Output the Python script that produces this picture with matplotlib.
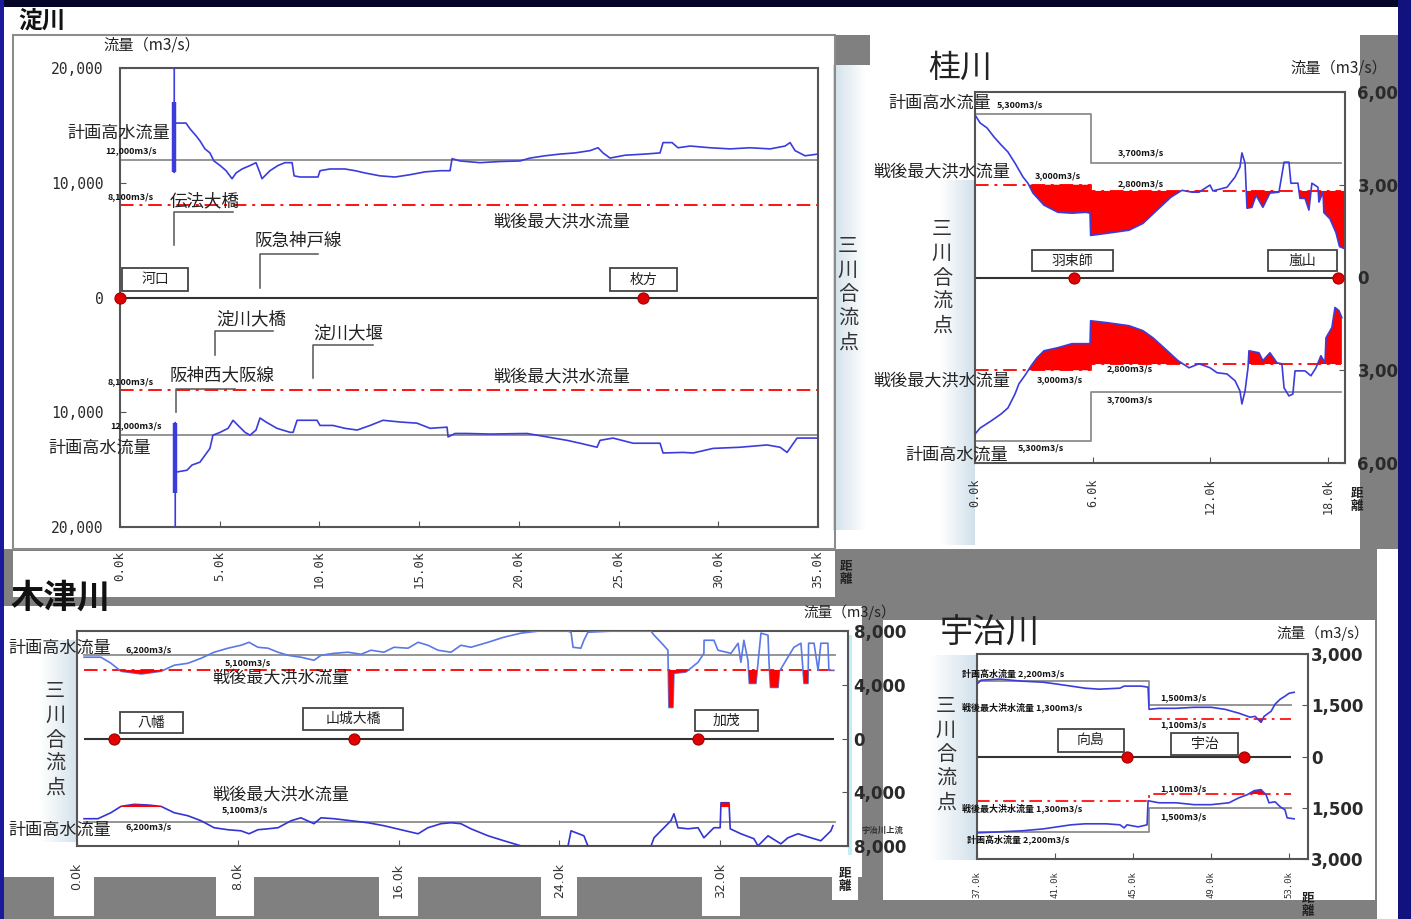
import numpy as np
import matplotlib.pyplot as plt
from matplotlib.patches import Rectangle
from matplotlib.ticker import FuncFormatter

plt.rcParams['font.family'] = ['Noto Sans CJK JP', 'DejaVu Sans']

# ---------------- 淀川 (0k = 河口) ----------------
yodo_km_up = [2.72, 2.72, 2.76, 2.91, 3.31, 3.51, 3.81, 4.01, 4.26, 4.51, 4.71, 5.02, 5.32, 5.62, 5.82, 6.12,
              6.52, 6.82, 7.02, 7.12, 7.52, 7.92, 8.27, 8.63, 8.73, 9.03, 9.93, 10.03, 10.53, 11.28, 11.79,
              12.29, 13.04, 13.79, 14.54, 15.30, 16.05, 16.55, 16.65, 17.05, 18.05, 19.06, 20.06, 20.56, 21.31,
              22.07, 22.82, 23.57, 23.97, 24.22, 24.57, 25.33, 26.33, 27.08, 27.23, 27.68, 27.98, 28.59, 29.59,
              30.59, 31.59, 32.60, 33.35, 33.60, 33.85, 34.35, 35.0]
yodo_q_up = [20000, 10900, 15200, 15200, 15200, 14700, 14100, 13650, 12950, 12600, 11900, 11500, 11050, 10350,
             10850, 11200, 11500, 11750, 10850, 10350, 11050, 11500, 11750, 11750, 10600, 10500, 10500, 11050,
             11200, 11200, 11050, 10850, 10600, 10500, 10700, 10950, 11050, 11050, 12100, 11900, 11750, 11850,
             11900, 12150, 12350, 12500, 12600, 12800, 13050, 12600, 12150, 12400, 12500, 12600, 13500, 13500,
             13050, 13200, 13050, 12950, 13050, 12950, 13200, 13500, 12800, 12350, 12500]
yodo_km_lo = [2.77, 2.77, 2.80, 2.86, 3.36, 3.61, 4.01, 4.26, 4.51, 4.66, 5.02, 5.42, 5.67, 5.92, 6.27, 6.52,
              6.82, 7.02, 7.32, 7.87, 8.53, 8.68, 8.88, 9.88, 10.03, 10.68, 11.28, 11.89, 12.54, 13.19, 14.04,
              14.89, 15.55, 16.40, 16.45, 16.80, 17.40, 18.56, 20.41, 21.41, 22.42, 23.07, 23.92, 24.07, 24.72,
              25.73, 27.08, 27.23, 28.23, 28.74, 29.74, 31.09, 32.45, 33.10, 33.45, 33.95, 35.0]
yodo_q_lo = [20000, 10900, 15200, 15200, 15050, 14600, 14350, 13750, 13150, 12000, 11750, 11400, 10700, 11150,
             11750, 12000, 11550, 10500, 10850, 11400, 11750, 11750, 10700, 10700, 11150, 11150, 11400, 11550,
             11150, 10700, 10850, 10950, 11400, 11300, 12150, 11850, 11850, 11900, 11850, 12150, 12450, 12700,
             13050, 12450, 12250, 12700, 12700, 13550, 13500, 13550, 13150, 13050, 12850, 13050, 13500, 12250,
             12250]
yodo_spike_km = [2.73, 2.78]
yodo_spike_q = [10900, 17000]
yodo_plan_km, yodo_plan_q = [0, 35], [12000, 12000]
yodo_pw_km, yodo_pw_q = [0, 35], [8100, 8100]
yodo_station_km = [0.0, 26.2]
yodo_ticks = [0, 5, 10, 15, 20, 25, 30, 35]

# ---------------- 桂川 ----------------
katsura_km_up = [0, 0.26, 0.61, 0.97, 1.33, 1.68, 2.04, 2.45, 2.70, 2.96, 3.52, 4.23, 4.95, 5.66, 5.87, 5.90,
                 6.73, 7.86, 8.57, 9.29, 10.0, 10.56, 11.07, 11.43, 11.99, 12.14, 12.86, 13.27, 13.52, 13.62,
                 13.78, 13.88, 14.13, 14.34, 14.69, 15.05, 15.51, 15.77, 16.02, 16.12, 16.48, 16.58, 16.84,
                 17.04, 17.19, 17.50, 17.55, 17.76, 17.80, 18.11, 18.42, 18.60, 18.83]
katsura_q_up = [5260, 5000, 4840, 4545, 4290, 4060, 3700, 3250, 3050, 2730, 2340, 2110, 2080, 2110, 2080, 1360,
                1430, 1530, 1750, 2180, 2600, 2820, 2760, 2760, 2990, 2800, 2920, 3250, 3570, 4030, 3700, 2240,
                2270, 2660, 2270, 2730, 2760, 3730, 3730, 3050, 3050, 2560, 2560, 2180, 3050, 2920, 2440, 2760,
                2100, 1900, 1450, 1000, 940]
katsura_km_lo = [0, 0.26, 0.82, 1.33, 1.68, 2.04, 2.24, 2.60, 2.86, 3.16, 3.52, 4.23, 4.95, 5.66, 5.87, 5.90,
                 6.73, 7.86, 8.57, 9.08, 9.64, 10.36, 10.92, 11.43, 11.99, 12.35, 12.86, 13.27, 13.52, 13.62,
                 13.78, 13.93, 13.98, 14.49, 14.69, 15.05, 15.41, 15.66, 15.77, 16.02, 16.22, 16.33, 16.84,
                 17.14, 17.40, 17.55, 17.65, 17.86, 17.91, 18.21, 18.37, 18.57, 18.72]
katsura_q_lo = [5065, 4870, 4640, 4415, 4220, 3770, 3440, 3120, 2860, 2600, 2370, 2270, 2140, 2140, 2140, 1400,
                1460, 1560, 1720, 1950, 2270, 2690, 2920, 2790, 2920, 3080, 3120, 3340, 3670, 4090, 3670, 2920,
                2370, 2435, 2690, 2435, 2760, 2790, 3570, 3830, 3770, 3020, 3020, 3180, 2920, 2690, 2530, 2760,
                1950, 1620, 970, 1070, 1300]
katsura_plan_km, katsura_plan_q = [0, 5.9, 18.7], [5300, 3700, 3700]
katsura_pw_km, katsura_pw_q = [0, 5.9, 18.7], [3000, 2800, 2800]
katsura_station_km = [5.05, 18.5]
katsura_ticks = [0, 6, 12, 18]

# ---------------- 木津川 ----------------
kizu_km_up = [0.35, 1.19, 1.69, 2.19, 3.2, 4.18, 4.83, 5.52, 6.17, 6.82, 7.51, 8.16, 8.56, 9.0, 9.5, 10.0, 10.5,
              11.14, 11.79, 12.14, 12.79, 13.48, 14.13, 14.63, 15.27, 15.77, 16.47, 16.97, 17.46, 17.96, 18.61,
              19.10, 19.60, 20.45, 21.24, 22.09, 22.94, 24.43, 24.58, 24.68, 25.07, 25.22, 25.42, 26.57, 28.56,
              28.71, 29.05, 29.40, 29.45, 29.65, 29.70, 30.3, 30.90, 31.19, 31.20, 31.69, 31.89, 32.54, 32.89,
              33.03, 33.18, 33.38, 33.45, 33.78, 34.03, 34.38, 34.43, 34.5, 34.88, 34.95, 35.37, 35.67, 36.02,
              36.17, 36.37, 36.40, 36.67, 36.87, 37.01, 37.36, 37.41, 37.66]
kizu_q_up = [6050, 6050, 5600, 5000, 4800, 5000, 5450, 5600, 5970, 6420, 6720, 6940, 7160, 6790, 6720, 6420, 6190,
             6050, 5820, 6190, 6340, 6420, 6270, 6570, 6420, 6790, 6720, 7160, 6940, 6570, 6420, 6940, 6790, 7160,
             7540, 7840, 7990, 7990, 7910, 6790, 6720, 7310, 7910, 7990, 7990, 7690, 7160, 6570, 2310, 2310, 4850,
             4950, 5670, 6340, 7310, 7310, 6570, 6340, 7090, 5670, 7310, 5820, 4100, 4100, 7840, 7690, 5670, 3800,
             3800, 5000, 6050, 6790, 7090, 4100, 4100, 7090, 7090, 5070, 7090, 7090, 5070, 5070]
kizu_km_lo = [0.35, 1.04, 1.69, 2.19, 2.84, 3.53, 4.18, 4.83, 5.52, 6.17, 6.82, 7.51, 8.16, 8.56, 9.0, 9.5, 10.0,
              10.65, 11.14, 11.79, 12.14, 12.79, 13.63, 14.48, 15.27, 16.12, 16.97, 17.46, 18.11, 18.61, 19.10,
              19.60, 20.45, 21.24, 22.09, 22.94, 24.43, 24.58, 25.22, 25.42, 28.56, 28.71, 29.05, 29.55, 29.70,
              29.90, 30.40, 30.90, 31.19, 31.69, 32.0, 32.04, 32.44, 32.50, 33.03, 33.68, 33.88, 34.38, 35.02,
              35.37, 35.87, 36.52, 37.01, 37.51, 37.61]
kizu_q_lo = [5970, 5970, 5520, 5050, 4900, 4950, 5050, 5520, 5750, 6120, 6640, 6790, 6870, 7090, 6790, 6720, 6640,
             6120, 5900, 6340, 5900, 5970, 6120, 6270, 6490, 6790, 7090, 6640, 6340, 6270, 6340, 6720, 7240, 7610,
             7990, 8000, 8000, 6870, 7240, 8000, 8000, 7390, 6870, 6120, 5600, 6640, 6720, 6640, 7390, 6640, 6640,
             4780, 4780, 6720, 7090, 7460, 7990, 7240, 7840, 7390, 7090, 7390, 7610, 6870, 6490]
kizu_plan_km, kizu_plan_q = [0.35, 37.7], [6200, 6200]
kizu_pw_km, kizu_pw_q = [0.35, 37.7], [5100, 5100]
kizu_station_km = [1.85, 13.8, 30.9]
kizu_ticks = [0, 8, 16, 24, 32]

# ---------------- 宇治川 ----------------
uji_km_up = [37.0, 37.21, 38.18, 39.31, 40.38, 41.10, 41.82, 42.54, 43.26, 44.33, 44.54, 44.90, 45.41, 45.77,
             45.82, 46.33, 47.21, 48.13, 49.0, 49.72, 50.44, 51.0, 51.26, 51.56, 51.72, 52.08, 52.28, 52.54,
             52.79, 53.0, 53.26]
uji_q_up = [2120, 2235, 2265, 2205, 2175, 2120, 2060, 2000, 1970, 2000, 2060, 2060, 2060, 2030, 1380, 1410, 1410,
            1440, 1440, 1380, 1265, 1150, 1175, 1000, 1175, 1325, 1530, 1675, 1765, 1850, 1880]
uji_km_lo = [37.0, 38.18, 39.31, 40.38, 41.10, 41.82, 42.54, 43.62, 44.33, 44.54, 44.69, 45.26, 45.72, 45.77,
             46.33, 47.21, 48.13, 49.0, 49.92, 50.44, 50.85, 51.21, 51.56, 51.82, 51.97, 52.28, 52.54, 52.79,
             52.90, 53.26]
uji_q_lo = [2235, 2205, 2175, 2120, 2060, 2000, 1970, 1970, 2000, 2090, 2000, 2060, 2000, 1295, 1355, 1355, 1410,
            1410, 1355, 1205, 1120, 1000, 970, 1120, 1355, 1325, 1470, 1560, 1795, 1825]
uji_plan_km, uji_plan_q = [37.0, 45.8, 53.1], [2200, 1500, 1500]
uji_pw_km, uji_pw_q = [37.0, 45.8, 53.1], [1300, 1100, 1100]
uji_station_km = [44.7, 50.7]
uji_ticks = [37, 41, 45, 49, 53]

W, H = 1411, 919
fig = plt.figure(figsize=(W / 100, H / 100), dpi=100)
fig.patch.set_facecolor('#05052a')

NAVY = '#05052a'
GRAY = '#808080'
BLUE = '#3c3cdc'
RED = '#ff1010'
PLAN = '#8c8c8c'
DASHDOT = (0, (7, 3, 1.5, 3))


def px_axes(x0, y0, x1, y1, **kw):
    return fig.add_axes([x0 / W, 1 - y1 / H, (x1 - x0) / W, (y1 - y0) / H], **kw)


def pixel_space(ax):
    ax.set_xlim(0, W)
    ax.set_ylim(H, 0)
    ax.set_autoscale_on(False)
    ax.axis('off')


def rect(ax, x0, y0, x1, y1, fc, ec='none', lw=0, z=1):
    ax.add_patch(Rectangle((x0, y0), x1 - x0, y1 - y0, facecolor=fc, edgecolor=ec, linewidth=lw, zorder=z))


def gradient(ax, x0, y0, x1, y1, dark_left=False):
    t = np.linspace(0, 1, 64)
    if dark_left:
        t = t[::-1]
    white = np.array([1.0, 1.0, 1.0])
    tint = np.array([0.82, 0.88, 0.92])
    img = (white[None, :] * (1 - t[:, None]) + tint[None, :] * t[:, None])[None, :, :]
    ax.imshow(img, extent=(x0, x1, y1, y0), aspect='auto', zorder=2, interpolation='bilinear')


# background panels of the slide
bg = fig.add_axes([0, 0, 1, 1])
bg.set_facecolor(NAVY)
rect(bg, 4, 7, 1398, 919, GRAY)
rect(bg, 4, 7, 1398, 35, 'white')
rect(bg, 4, 35, 835, 549, 'white')
rect(bg, 13, 35, 835, 549, 'none', ec='#8c8c8c', lw=1.5, z=3)
rect(bg, 13, 551, 835, 597, 'white')
rect(bg, 835, 65, 870, 549, 'white')
rect(bg, 870, 35, 1360, 549, 'white')
rect(bg, 1377, 549, 1398, 919, 'white')
rect(bg, 4, 606, 862, 877, 'white')
for a, b in [(54, 94), (216, 254), (379, 418), (541, 577), (702, 740)]:
    rect(bg, a, 877, b, 916, 'white')
rect(bg, 832, 877, 858, 900, 'white')
rect(bg, 883, 620, 1375, 900, 'white')
rect(bg, 848, 635, 852, 855, '#c4eef6', z=3)
gradient(bg, 833, 65, 866, 530, dark_left=True)
gradient(bg, 940, 180, 975, 545)
gradient(bg, 40, 640, 80, 842)
gradient(bg, 930, 655, 977, 860)
pixel_space(bg)

absfmt = FuncFormatter(lambda v, p: f'{abs(v):,.0f}')


def frame(ax, xlim, ylim, xticks, xfont, xsize, xpad, yticks, yside, yfont, ysize, ypad, ybold):
    ax.set_facecolor('white')
    ax.set_xlim(*xlim)
    ax.set_ylim(*ylim)
    for s in ax.spines.values():
        s.set_color('#555555')
        s.set_linewidth(1.5)
    ax.set_xticks(xticks)
    ax.set_xticklabels([f'{k:.1f}k' for k in xticks], rotation=90, va='top')
    ax.tick_params(axis='x', direction='in', length=4, color='#555555', pad=xpad,
                   labelsize=xsize, labelcolor='#333333', labelfontfamily=xfont)
    ax.set_yticks(yticks)
    ax.yaxis.set_major_formatter(absfmt)
    if yside == 'right':
        ax.yaxis.tick_right()
    ax.tick_params(axis='y', direction='in', length=4, color='#555555', pad=ypad,
                   labelsize=ysize, labelcolor='#2a2a2a', labelfontfamily=yfont)
    if ybold:
        plt.setp(ax.get_yticklabels(), fontweight='bold')


def step_lookup(brk_km, brk_q, km):
    idx = np.clip(np.searchsorted(brk_km, km, side='right') - 1, 0, len(brk_q) - 1)
    return np.asarray(brk_q, float)[idx]


def profile(ax, km, q, pw_km, pw_q, sign, color=BLUE, lw=1.2, fill_z=3):
    km = np.asarray(km, float)
    q = np.asarray(q, float)
    pw = step_lookup(pw_km, pw_q, km)
    ax.fill_between(km, sign * q, sign * pw, where=q < pw, interpolate=True,
                    color='#ff0000', linewidth=0, zorder=fill_z)
    ax.plot(km, sign * q, color=color, lw=lw, zorder=4)


def step_line(ax, km, q, sign, **kw):
    ax.plot(km, sign * np.asarray(q, float), drawstyle='steps-post', **kw)


def stations(ax, km):
    ax.plot(km, np.zeros(len(km)), 'o', ms=8, color='#e00000', mec='#a00000', mew=0.8,
            clip_on=False, zorder=7)


# ---- 淀川 ----
ax = px_axes(120, 68, 818, 527)
frame(ax, (0, 35), (-20000, 20000), yodo_ticks, 'DejaVu Sans Mono', 9, 17,
      [-20000, -10000, 0, 10000, 20000], 'left', 'DejaVu Sans Mono', 10.5, 12, False)
ax.axhline(0, color='#333333', lw=1.5, zorder=2)
for sign in (1, -1):
    step_line(ax, yodo_plan_km, yodo_plan_q, sign, color=PLAN, lw=1.3, zorder=2)
    step_line(ax, yodo_pw_km, yodo_pw_q, sign, color=RED, lw=1.4, ls=DASHDOT, zorder=2)
profile(ax, yodo_km_up, yodo_q_up, yodo_pw_km, yodo_pw_q, 1)
profile(ax, yodo_km_lo, yodo_q_lo, yodo_pw_km, yodo_pw_q, -1)
ax.vlines(yodo_spike_km[0], yodo_spike_q[0], yodo_spike_q[1], color=BLUE, lw=3.2, zorder=4)
ax.vlines(yodo_spike_km[1], -yodo_spike_q[1], -yodo_spike_q[0], color=BLUE, lw=3.2, zorder=4)
stations(ax, yodo_station_km)

# ---- 桂川 ----
ax = px_axes(975, 92, 1345, 463)
frame(ax, (0, 18.88), (-6000, 6000), katsura_ticks, 'DejaVu Sans Mono', 8.5, 11,
      [-6000, -3000, 0, 3000, 6000], 'right', 'DejaVu Sans', 12, 9, True)
ax.axhline(0, color='#333333', lw=1.5, zorder=2)
for sign in (1, -1):
    step_line(ax, katsura_plan_km, katsura_plan_q, sign, color=PLAN, lw=1.3, zorder=2)
    step_line(ax, katsura_pw_km, katsura_pw_q, sign, color=RED, lw=1.4, ls=DASHDOT, zorder=2)
profile(ax, katsura_km_up, katsura_q_up, katsura_pw_km, katsura_pw_q, 1)
profile(ax, katsura_km_lo, katsura_q_lo, katsura_pw_km, katsura_pw_q, -1)
stations(ax, katsura_station_km)

# ---- 木津川 ----
ax = px_axes(77, 631, 848, 846)
frame(ax, (0, 38.36), (-8000, 8000), kizu_ticks, 'DejaVu Sans', 9, 12,
      [-8000, -4000, 0, 4000, 8000], 'right', 'DejaVu Sans', 12, 4, True)
ax.hlines(0, kizu_km_up[0], kizu_km_up[-1], color='#333333', lw=1.5, zorder=2)
for sign in (1, -1):
    step_line(ax, kizu_plan_km, kizu_plan_q, sign, color=PLAN, lw=1.3, zorder=2)
step_line(ax, kizu_pw_km, kizu_pw_q, 1, color=RED, lw=1.4, ls=DASHDOT, zorder=2)
profile(ax, kizu_km_up, kizu_q_up, kizu_pw_km, kizu_pw_q, 1, color='#5a78e6', fill_z=5)
profile(ax, kizu_km_lo, kizu_q_lo, kizu_pw_km, kizu_pw_q, -1, color='#3434d4', fill_z=5)
stations(ax, kizu_station_km)

# ---- 宇治川 ----
ax = px_axes(977, 654, 1308, 859)
frame(ax, (37, 53.97), (-3000, 3000), uji_ticks, 'DejaVu Sans Mono', 6.5, 9,
      [-3000, -1500, 0, 1500, 3000], 'right', 'DejaVu Sans', 12, 2, True)
ax.hlines(0, uji_plan_km[0], uji_plan_km[-1], color='#333333', lw=1.5, zorder=2)
for sign in (1, -1):
    step_line(ax, uji_plan_km, uji_plan_q, sign, color=PLAN, lw=1.3, zorder=2)
step_line(ax, uji_pw_km[1:], uji_pw_q[1:], 1, color=RED, lw=1.3, ls=DASHDOT, zorder=2)
step_line(ax, uji_pw_km, uji_pw_q, -1, color=RED, lw=1.3, ls=DASHDOT, zorder=2)
profile(ax, uji_km_up, uji_q_up, uji_pw_km, uji_pw_q, 1)
profile(ax, uji_km_lo, uji_q_lo, uji_pw_km, uji_pw_q, -1)
stations(ax, uji_station_km)

# ---- labels, station boxes and frame edges on top ----
top = fig.add_axes([0, 0, 1, 1], facecolor='none')
pixel_space(top)


def txt(x, y, s, size=12.3, color='#222222', ha='left', va='center', **kw):
    top.text(x, y, s, fontsize=size, color=color, ha=ha, va=va, **kw)


def qlab(x, y, v, size=6.5):
    txt(x, y, f'{v:,}m3/s', size=size, weight='bold', color='#111111')


def station_box(x0, y0, x1, y1, name, size=10):
    rect(top, x0, y0, x1, y1, 'white', ec='#444444', lw=1.3, z=5)
    top.text((x0 + x1) / 2, (y0 + y1) / 2, name, ha='center', va='center', fontsize=size,
             color='#222222', zorder=6)


def leader(x, yb, yt, x2):
    top.plot([x, x, x2], [yb, yt, yt], color='#555555', lw=1.1)


def vtext(x, y, s, size=14.5):
    top.text(x, y, '\n'.join(s), ha='center', va='center', fontsize=size, color='#333333',
             linespacing=1.2)


# 淀川
txt(18, 8, '淀川', size=17, weight='bold', color='#111111', va='top')
txt(103, 45, '流量（m3/s）', size=11)
txt(67, 133, '計画高水流量')
qlab(105, 151, yodo_plan_q[0])
qlab(108, 197, yodo_pw_q[0])
txt(493, 222, '戦後最大洪水流量')
txt(48, 448, '計画高水流量')
qlab(110, 426, yodo_plan_q[0])
qlab(108, 382, yodo_pw_q[0])
txt(493, 377, '戦後最大洪水流量')
txt(170, 201, '伝法大橋', size=12.6)
leader(174, 245, 212, 233)
txt(255, 240, '阪急神戸線', size=12.6)
leader(260, 288, 254, 318)
txt(216, 319, '淀川大橋', size=12.6)
leader(215, 355, 331, 273)
txt(313, 333, '淀川大堰', size=12.6)
leader(313, 378, 345, 373)
txt(170, 375, '阪神西大阪線', size=12.6)
leader(176, 412, 389, 235)
station_box(122, 268, 188, 291, '河口')
station_box(610, 268, 677, 291, '枚方')
vtext(848, 295, '三川合流点')
txt(846, 573, '距\n離', size=9, weight='bold', color='#222222', linespacing=1.0, ha='center')

# 桂川
txt(928, 68, '桂川', size=23)
txt(1290, 68, '流量（m3/s）', size=11)
txt(888, 103, '計画高水流量')
qlab(997, 105, katsura_plan_q[0])
txt(873, 172, '戦後最大洪水流量')
qlab(1035, 176, katsura_pw_q[0])
qlab(1118, 153, katsura_plan_q[1])
qlab(1118, 184, katsura_pw_q[1])
txt(873, 381, '戦後最大洪水流量')
qlab(1037, 380, katsura_pw_q[0])
qlab(1107, 369, katsura_pw_q[1])
qlab(1107, 400, katsura_plan_q[1])
txt(905, 455, '計画高水流量')
qlab(1018, 448, katsura_plan_q[0])
station_box(1032, 250, 1113, 271, '羽束師')
station_box(1268, 250, 1337, 271, '嵐山')
vtext(942, 278, '三川合流点')
txt(1357, 500, '距\n離', size=9, weight='bold', color='#222222', linespacing=1.0, ha='center')

# 木津川
txt(10, 598, '木津川', size=24, weight='bold', color='#111111')
txt(803, 612, '流量（m3/s）', size=10.5)
txt(8, 648, '計画高水流量')
qlab(125, 650, kizu_plan_q[0])
qlab(225, 663, kizu_pw_q[0])
txt(212, 678, '戦後最大洪水流量')
txt(212, 795, '戦後最大洪水流量')
qlab(222, 810, kizu_pw_q[0])
txt(8, 830, '計画高水流量')
qlab(125, 827, kizu_plan_q[0])
station_box(120, 712, 183, 733, '八幡')
station_box(303, 708, 403, 730, '山城大橋')
station_box(695, 710, 758, 731, '加茂')
vtext(55, 740, '三川合流点')
txt(862, 830, '宇治川上流', size=6, weight='bold', color='#333333')
txt(845, 880, '距\n離', size=9, weight='bold', color='#222222', linespacing=1.0, ha='center')

# 宇治川
txt(940, 633, '宇治川', size=24)
txt(1276, 633, '流量（m3/s）', size=10.5)
txt(962, 673, f'計画高水流量 {uji_plan_q[0]:,}m3/s', size=6.5, weight='bold', color='#111111')
txt(962, 707, f'戦後最大洪水流量 {uji_pw_q[0]:,}m3/s', size=6.5, weight='bold', color='#111111')
qlab(1160, 698, uji_plan_q[1])
qlab(1160, 725, uji_pw_q[1])
qlab(1160, 789, uji_pw_q[1])
txt(962, 808, f'戦後最大洪水流量 {uji_pw_q[0]:,}m3/s', size=6.5, weight='bold', color='#111111')
qlab(1160, 817, uji_plan_q[1])
txt(967, 839, f'計画高水流量 {uji_plan_q[0]:,}m3/s', size=6.5, weight='bold', color='#111111')
station_box(1058, 729, 1124, 752, '向島')
station_box(1171, 733, 1238, 755, '宇治')
vtext(946, 755, '三川合流点')
txt(1308, 905, '距\n離', size=9, weight='bold', color='#222222', linespacing=1.0, ha='center')

# slide border
rect(top, 0, 0, W, 7, NAVY, z=8)
rect(top, 0, 0, 4, H, '#1a1a9a', z=8)
rect(top, 1398, 0, W, H, '#12127e', z=8)

fig.savefig('out.png', dpi=100, facecolor=fig.get_facecolor())
